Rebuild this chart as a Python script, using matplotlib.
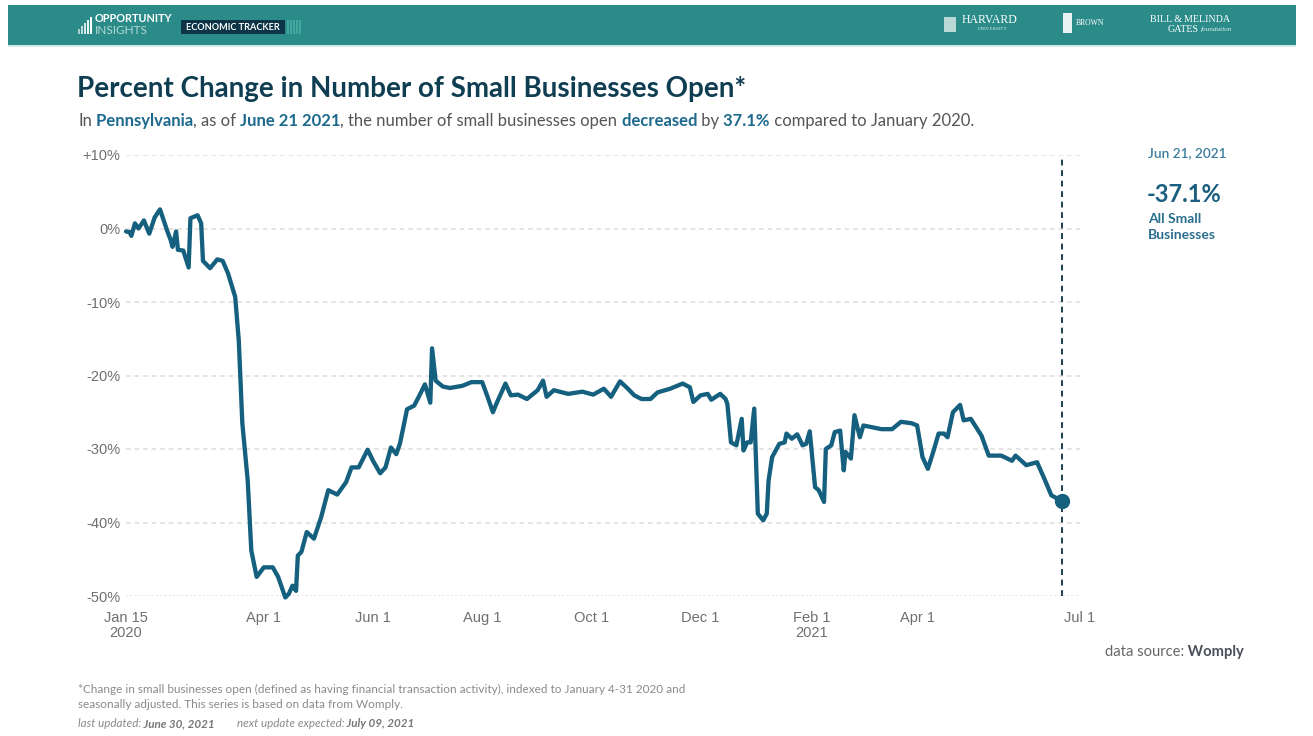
import matplotlib
matplotlib.use("Agg")
import matplotlib.pyplot as plt
import pandas as pd
from matplotlib.patches import Rectangle

# ---------------- data ----------------
dates = [
    "2020-01-15", "2020-01-17", "2020-01-18", "2020-01-20", "2020-01-22", "2020-01-25",
    "2020-01-28", "2020-01-31", "2020-02-03", "2020-02-07", "2020-02-09", "2020-02-10",
    "2020-02-12", "2020-02-13", "2020-02-16", "2020-02-19", "2020-02-20", "2020-02-24",
    "2020-02-26", "2020-02-27", "2020-03-02", "2020-03-06", "2020-03-09", "2020-03-12",
    "2020-03-16", "2020-03-18", "2020-03-20", "2020-03-23", "2020-03-25", "2020-03-28",
    "2020-04-01", "2020-04-06", "2020-04-09", "2020-04-11", "2020-04-13", "2020-04-15",
    "2020-04-17", "2020-04-19", "2020-04-20", "2020-04-22", "2020-04-25", "2020-04-29",
    "2020-05-03", "2020-05-07", "2020-05-12", "2020-05-17", "2020-05-20", "2020-05-24",
    "2020-05-29", "2020-06-01", "2020-06-05", "2020-06-08", "2020-06-11", "2020-06-14",
    "2020-06-16", "2020-06-18", "2020-06-20", "2020-06-24", "2020-06-27", "2020-06-30",
    "2020-07-03", "2020-07-04", "2020-07-06", "2020-07-10", "2020-07-14", "2020-07-21",
    "2020-07-26", "2020-08-01", "2020-08-04", "2020-08-07", "2020-08-09", "2020-08-14",
    "2020-08-17", "2020-08-21", "2020-08-26", "2020-09-01", "2020-09-04", "2020-09-06",
    "2020-09-10", "2020-09-18", "2020-09-26", "2020-10-02", "2020-10-08", "2020-10-12",
    "2020-10-17", "2020-10-21", "2020-10-25", "2020-10-29", "2020-11-03", "2020-11-07",
    "2020-11-14", "2020-11-21", "2020-11-25", "2020-11-27", "2020-12-01", "2020-12-05",
    "2020-12-07", "2020-12-12", "2020-12-15", "2020-12-16", "2020-12-18", "2020-12-21",
    "2020-12-24", "2020-12-25", "2020-12-27", "2020-12-29", "2020-12-31", "2021-01-02",
    "2021-01-05", "2021-01-07", "2021-01-08", "2021-01-10", "2021-01-14", "2021-01-17",
    "2021-01-18", "2021-01-21", "2021-01-24", "2021-01-27", "2021-01-29", "2021-01-31",
    "2021-02-03", "2021-02-05", "2021-02-08", "2021-02-09", "2021-02-12", "2021-02-14",
    "2021-02-17", "2021-02-19", "2021-02-20", "2021-02-23", "2021-02-25", "2021-02-28",
    "2021-03-02", "2021-03-06", "2021-03-12", "2021-03-18", "2021-03-23", "2021-03-29",
    "2021-04-01", "2021-04-04", "2021-04-07", "2021-04-10", "2021-04-13", "2021-04-16",
    "2021-04-18", "2021-04-21", "2021-04-25", "2021-04-27", "2021-05-01", "2021-05-07",
    "2021-05-11", "2021-05-18", "2021-05-24", "2021-05-26", "2021-06-01", "2021-06-07",
    "2021-06-11", "2021-06-15", "2021-06-21",
]
values = [
    -0.4, -0.5, -1.0, 0.7, 0.0, 1.1,
    -0.7, 1.5, 2.6, -0.3, -1.6, -2.5,
    -0.4, -2.9, -3.0, -5.3, 1.4, 1.8,
    0.7, -4.4, -5.4, -4.2, -4.4, -6.1,
    -9.3, -15.2, -26.5, -34.3, -43.8, -47.4,
    -46.1, -46.1, -47.4, -48.8, -50.2, -49.7,
    -48.6, -49.3, -44.5, -44.0, -41.3, -42.2,
    -39.3, -35.6, -36.2, -34.5, -32.5, -32.5,
    -30.1, -31.6, -33.3, -32.5, -29.8, -30.7,
    -29.3, -27.0, -24.6, -24.1, -22.7, -21.2,
    -23.7, -16.3, -20.7, -21.5, -21.7, -21.4,
    -20.9, -20.9, -22.9, -25.0, -23.8, -21.1,
    -22.7, -22.6, -23.2, -22.0, -20.7, -22.9,
    -22.0, -22.5, -22.2, -22.6, -21.8, -22.9,
    -20.8, -21.7, -22.7, -23.2, -23.2, -22.3,
    -21.8, -21.1, -21.6, -23.6, -22.7, -22.5,
    -23.3, -22.5, -23.2, -23.9, -29.1, -29.5,
    -25.9, -30.2, -29.1, -29.1, -24.5, -38.8,
    -39.7, -38.8, -34.3, -31.1, -29.3, -29.1,
    -27.9, -28.6, -28.0, -29.5, -29.3, -27.6,
    -35.2, -35.6, -37.2, -30.0, -29.5, -27.7,
    -27.5, -32.9, -30.4, -31.3, -25.4, -28.4,
    -26.8, -27.0, -27.3, -27.3, -26.3, -26.5,
    -26.8, -31.1, -32.7, -30.4, -27.9, -27.9,
    -28.4, -25.0, -24.0, -26.1, -25.9, -28.2,
    -30.9, -30.9, -31.6, -30.9, -32.2, -31.8,
    -34.0, -36.3, -37.1,
]
x_tick_dates = ["2020-01-15", "2020-04-01", "2020-06-01", "2020-08-01", "2020-10-01",
                "2020-12-01", "2021-02-01", "2021-04-01", "2021-07-01"]
x_tick_labels = ["Jan 15\n2020", "Apr 1", "Jun 1", "Aug 1", "Oct 1",
                 "Dec 1", "Feb 1\n2021", "Apr 1", "Jul 1"]
y_ticks = [10, 0, -10, -20, -30, -40, -50]
y_tick_labels = ["+10%", "0%", "-10%", "-20%", "-30%", "-40%", "-50%"]
last_date = "2021-06-21"
last_value = -37.1
x_start, x_end = "2020-01-15", "2021-07-01"

# ---------------- styling ----------------
W, H, DPI = 1313, 736, 100
LINE = "#16607f"
NAVY = "#0f3d52"
TEAL_TXT = "#1d6a8e"
GRAY = "#6f6f6f"
GRID = "#dcdcdc"
HEADER = "#2a8b88"
SANS = ["Lato", "DejaVu Sans"]
TICKF = ["Liberation Sans", "DejaVu Sans"]

fig = plt.figure(figsize=(W / DPI, H / DPI), dpi=DPI)
fig.patch.set_facecolor("white")


def fx(px):
    return px / W


def fy(py):
    return 1 - py / H


# ---------------- header bar ----------------
fig.add_artist(Rectangle((fx(8), fy(45)), fx(1296) - fx(8), fy(5) - fy(45),
                         transform=fig.transFigure, facecolor=HEADER, edgecolor="none"))
fig.add_artist(Rectangle((fx(8), fy(47)), fx(1296) - fx(8), fy(45) - fy(47),
                         transform=fig.transFigure, facecolor="#cfe9e6", edgecolor="none"))
# Opportunity Insights logo bars
for i, (h, a) in enumerate([(5, 0.6), (8, 0.7), (11, 0.8), (14, 0.9), (17, 1.0)]):
    fig.add_artist(Rectangle((fx(78 + i * 3), fy(34)), fx(2.2), h / H,
                             transform=fig.transFigure, facecolor="white",
                             alpha=a, edgecolor="none"))
fig.text(fx(95), fy(19), "OPPORTUNITY", color="white", fontsize=7.8, fontweight="bold",
         family=SANS, va="center", ha="left")
fig.text(fx(95), fy(30), "INSIGHTS", color="#d8eeec", fontsize=8.5,
         family=SANS, va="center", ha="left", alpha=0.8)
fig.add_artist(Rectangle((fx(181), fy(34)), fx(104), 14 / H,
                         transform=fig.transFigure, facecolor="#0d3447", edgecolor="none"))
for i in range(5):
    fig.add_artist(Rectangle((fx(287 + i * 3), fy(34)), fx(1.5), 14 / H,
                             transform=fig.transFigure, facecolor="#5fc5b5",
                             alpha=0.5, edgecolor="none"))
fig.text(fx(233), fy(27), "ECONOMIC TRACKER", color="white", fontsize=6.6, fontweight="bold",
         family=SANS, va="center", ha="center")
# partner logos
fig.add_artist(Rectangle((fx(944), fy(32)), fx(12), 15 / H,
                         transform=fig.transFigure, facecolor="#b9d8d6", edgecolor="none"))
fig.text(fx(962), fy(20), "HARVARD", color="white", fontsize=8.5, family="Liberation Serif",
         va="center", ha="left")
fig.text(fx(993), fy(29), "UNIVERSITY", color="#d8eeec", fontsize=3.6,
         family="Liberation Serif", va="center", ha="center")
fig.add_artist(Rectangle((fx(1063), fy(33)), fx(9), 20 / H,
                         transform=fig.transFigure, facecolor="#e7f2f1", edgecolor="none"))
fig.text(fx(1076), fy(23), "BROWN", color="white", fontsize=5.5, family="Liberation Serif",
         va="center", ha="left")
fig.text(fx(1150), fy(19), "BILL\u2009&\u2009MELINDA", color="white", fontsize=7.2,
         family="Liberation Serif", va="center", ha="left")
fig.text(fx(1168), fy(29), "GATES", color="white", fontsize=7.2,
         family="Liberation Serif", va="center", ha="left")
fig.text(fx(1201), fy(29), "foundation", color="#d8eeec", fontsize=5.2, style="italic",
         family="Liberation Serif", va="center", ha="left")

# ---------------- title and subtitle ----------------
fig.text(fx(77), fy(89), "Percent Change in Number of Small Businesses Open*", color=NAVY,
         fontsize=20, fontweight="bold", family=SANS, va="center", ha="left")

renderer = fig.canvas.get_renderer()


def rich(x_px, y_px, parts, size, **common):
    x = x_px
    for s, kw in parts:
        t = fig.text(fx(x), fy(y_px), s, fontsize=size, va="baseline", ha="left",
                     family=SANS, **kw, **common)
        x += t.get_window_extent(renderer=renderer).width
    return x


reg = dict(color="#555555")
bld = dict(color=TEAL_TXT, fontweight="bold")
rich(78, 126, [("In", reg), (" Pennsylvania", bld), (", as of", reg), (" June 21 2021", bld),
               (", the number of small businesses open", reg), (" decreased", bld),
               (" by", reg), (" 37.1%", bld), (" compared to January 2020.", reg)], 12)

# ---------------- main axes ----------------
x0, x1 = 126, 1080
y_top, y_bot = 155, 596
ax = fig.add_axes([fx(x0), fy(y_bot), fx(x1) - fx(x0), fy(y_top) - fy(y_bot)])
ax.set_facecolor("none")
dt = pd.to_datetime(dates)
ax.set_xlim(pd.Timestamp(x_start), pd.Timestamp(x_end))
ax.set_ylim(-50, 10)
for s in ax.spines.values():
    s.set_visible(False)

for v in y_ticks:
    ls = (0, (1.2, 1.6)) if v == -50 else (0, (3.0, 2.6))
    ax.axhline(v, color=GRID, lw=1.1, ls=ls, zorder=1)

ax.set_yticks(y_ticks)
ax.set_yticklabels(y_tick_labels)
ax.set_xticks(pd.to_datetime(x_tick_dates))
ax.set_xticklabels(x_tick_labels)
ax.tick_params(axis="both", length=0, labelcolor=GRAY, labelsize=10.5)
ax.tick_params(axis="y", pad=4)
ax.tick_params(axis="x", pad=11)
for lab in ax.get_xticklabels() + ax.get_yticklabels():
    lab.set_family(TICKF)
    lab.set_linespacing(1.05)

ax.plot(dt, values, color=LINE, lw=3.1, solid_joinstyle="round", solid_capstyle="round",
        zorder=3, clip_on=False)
ax.axvline(pd.Timestamp(last_date), color="#1d3f52", lw=1.4, ls=(0, (3.0, 2.4)), zorder=2)
ax.plot([pd.Timestamp(last_date)], [last_value], "o", color=LINE, ms=10, zorder=4,
        clip_on=False)

# ---------------- right-hand annotation ----------------
fig.text(fx(1148), fy(153), "Jun 21, 2021", color="#3b7d9c", fontsize=9.8,
         fontweight="semibold", family=SANS, va="center", ha="left")
fig.text(fx(1147), fy(194), f"{last_value:.1f}%", color="#1b5f80", fontsize=17,
         fontweight="bold", family=SANS, va="center", ha="left")
fig.text(fx(1148), fy(227), "All Small\nBusinesses", color="#2a6f90", fontsize=10,
         fontweight="bold", family=SANS, va="center", ha="left", linespacing=1.45)

# ---------------- data source & footnotes ----------------
rich(1105, 656, [("data source:", dict(color="#666666")),
                 (" Womply", dict(color="#4a4f5a", fontweight="bold"))], 10.6)

fig.text(fx(78), fy(689), "*Change in small businesses open (defined as having financial "
         "transaction activity), indexed to January 4-31 2020 and", color="#8a8a8a",
         fontsize=8.5, family=SANS, va="center", ha="left")
fig.text(fx(78), fy(704), "seasonally adjusted. This series is based on data from Womply.",
         color="#8a8a8a", fontsize=8.5, family=SANS, va="center", ha="left")
rich(78, 727, [("last updated:", dict(color="#8a8a8a", style="italic")),
               (" June 30, 2021", dict(color="#777777", style="italic", fontweight="bold")),
               ("        next update expected:", dict(color="#8a8a8a", style="italic")),
               (" July 09, 2021", dict(color="#777777", style="italic", fontweight="bold"))],
     8.4)

fig.savefig("out.png", dpi=DPI, facecolor="white")
